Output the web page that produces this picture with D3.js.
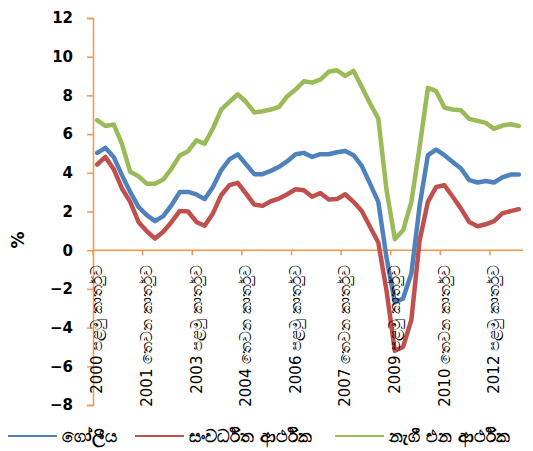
<!DOCTYPE html>
<html>
<head>
<meta charset="utf-8">
<script src="https://cdn.jsdelivr.net/npm/d3@7"></script>
<style>
  html, body { margin: 0; padding: 0; background: #fff; }
  svg { display: block; }
</style>
</head>
<body>
<svg id="chart" width="533" height="451"></svg>
<script>
// ---- data (quarterly, 2000 Q1 .. 2012 Q4) ----
const quarters = d3.range(52).map(i => (2000 + Math.floor(i / 4)) + " Q" + (i % 4 + 1));

const globalGrowth = [
  5.03, 5.29, 4.82, 3.88, 3.01, 2.24, 1.81, 1.50, 1.76, 2.33, 3.01, 3.01,
  2.88, 2.64, 3.27, 4.13, 4.69, 4.95, 4.44, 3.93, 3.93, 4.10, 4.31, 4.60,
  4.96, 5.03, 4.82, 4.96, 4.96, 5.06, 5.13, 4.91, 4.36, 3.44, 2.50, -0.40,
  -2.70, -2.50, -1.20, 2.30, 4.91, 5.20, 4.91, 4.56, 4.22, 3.62, 3.50, 3.58,
  3.50, 3.76, 3.91, 3.91
];
const developedGrowth = [
  4.43, 4.82, 4.19, 3.19, 2.50, 1.46, 0.98, 0.60, 0.95, 1.46, 2.03, 2.00,
  1.46, 1.26, 1.90, 2.84, 3.36, 3.48, 2.93, 2.36, 2.29, 2.53, 2.67, 2.89,
  3.15, 3.10, 2.76, 2.96, 2.62, 2.64, 2.89, 2.50, 2.03, 1.21, 0.40, -2.10,
  -5.20, -5.00, -3.60, 0.50, 2.50, 3.27, 3.36, 2.76, 2.15, 1.46, 1.24, 1.34,
  1.50, 1.90, 2.02, 2.12
];
const emergingGrowth = [
  6.72, 6.42, 6.50, 5.50, 4.05, 3.82, 3.44, 3.43, 3.65, 4.22, 4.90, 5.12,
  5.68, 5.51, 6.29, 7.27, 7.67, 8.06, 7.67, 7.12, 7.18, 7.27, 7.41, 7.96,
  8.30, 8.73, 8.66, 8.82, 9.22, 9.30, 9.01, 9.27, 8.44, 7.58, 6.80, 3.10,
  0.57, 1.03, 2.50, 5.34, 8.39, 8.22, 7.37, 7.27, 7.23, 6.79, 6.68, 6.58,
  6.27, 6.44, 6.51, 6.42
];
const seriesNames = ["ගෝලීය", "සංවර්ධිත ආර්ථික", "නැගී එන ආර්ථික"];
const seriesColors = ["#4F81BD", "#C0504D", "#9BBB59"];
const yTicks = [-8, -6, -4, -2, 0, 2, 4, 6, 8, 10, 12];
const xTickIndex = [0, 6, 12, 18, 24, 30, 36, 42, 48];
const xTickLabels = [
  "2000 පළමු කාර්තුව", "2001 තෙවන කාර්තුව", "2003 පළමු කාර්තුව",
  "2004 තෙවන කාර්තුව", "2006 පළමු කාර්තුව", "2007 තෙවන කාර්තුව",
  "2009 පළමු කාර්තුව", "2010 තෙවන කාර්තුව", "2012 පළමු කාර්තුව"
];
const yTitle = "%";

(function () {
// ---- layout ----
const svg = d3.select("#chart");
const pLeft = 93, pRight = 523, pTop = 18, pBottom = 405;
const axisColor = "#F79646";
const fontFam = "'DejaVu Sans', Verdana, sans-serif";

const x = d3.scaleBand().domain(d3.range(quarters.length)).range([pLeft, pRight]).paddingInner(0).paddingOuter(0);
const y = d3.scaleLinear().domain([-8, 12]).range([pBottom, pTop]);
const cx = i => x(i) + x.bandwidth() / 2;

// y axis
const yAxis = d3.axisLeft(y).tickValues(yTicks).tickSize(6).tickPadding(14).tickFormat(d3.format("d"));
const gy = svg.append("g").attr("transform", `translate(${pLeft},0)`).call(yAxis);
gy.select(".domain").attr("stroke", axisColor).attr("stroke-width", 1.5);
gy.selectAll(".tick line").attr("stroke", axisColor).attr("stroke-width", 1.5);
gy.selectAll(".tick text")
  .attr("fill", "#000").attr("font-family", fontFam).attr("font-weight", "bold").attr("font-size", 15);

// x axis at y = 0
const x0 = y(0);
svg.append("line").attr("x1", pLeft).attr("x2", pRight).attr("y1", x0).attr("y2", x0)
  .attr("stroke", axisColor).attr("stroke-width", 1.5);
svg.append("g").selectAll("line").data(xTickIndex).join("line")
  .attr("x1", d => x(d)).attr("x2", d => x(d))
  .attr("y1", x0).attr("y2", x0 + 5)
  .attr("stroke", axisColor).attr("stroke-width", 1.5);

// series lines
const line = d3.line().x((d, i) => cx(i)).y(d => y(d));
const allSeries = [globalGrowth, developedGrowth, emergingGrowth];
[2, 1, 0].forEach(k => {
  svg.append("path").datum(allSeries[k])
    .attr("d", line).attr("fill", "none")
    .attr("stroke", seriesColors[k]).attr("stroke-width", 4.5)
    .attr("stroke-linejoin", "round").attr("stroke-linecap", "round");
});

// x tick labels
svg.append("g").selectAll("text").data(xTickIndex).join("text")
  .attr("transform", d => `translate(${cx(d)},265) rotate(-90)`)
  .attr("text-anchor", "end").attr("dy", "0.35em")
  .attr("font-family", fontFam).attr("font-size", 15).attr("fill", "#000")
  .text((d, i) => xTickLabels[i]);

// y title
svg.append("text").attr("transform", "translate(18,240) rotate(-90)")
  .attr("text-anchor", "middle").attr("dy", "0.35em")
  .attr("font-family", fontFam).attr("font-weight", "bold").attr("font-size", 17)
  .attr("fill", "#000").text(yTitle);

// legend
const legX = [8, 135, 335];
const legY = 436;
const lg = svg.append("g");
seriesNames.forEach((name, k) => {
  lg.append("line").attr("x1", legX[k]).attr("x2", legX[k] + 49)
    .attr("y1", legY).attr("y2", legY)
    .attr("stroke", seriesColors[k]).attr("stroke-width", 2);
  lg.append("text").attr("x", legX[k] + 54).attr("y", legY).attr("dy", "0.35em")
    .attr("font-family", fontFam).attr("font-weight", "bold").attr("font-size", 17)
    .attr("fill", "#000").text(name);
});
})();
</script>
</body>
</html>
